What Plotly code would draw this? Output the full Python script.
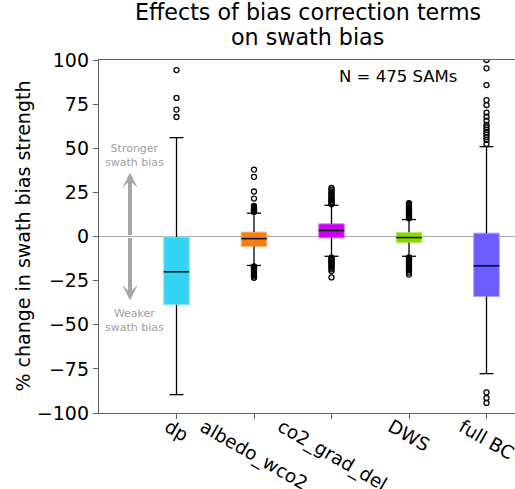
import plotly.graph_objects as go

# -------------------------
# Data
# -------------------------
categories = ["dp", "albedo_wco2", "co2_grad_del", "DWS", "full BC"]
positions = [0, 1, 2, 3, 4]

q1 = [-38.7, -5.7, -0.8, -3.6, -34.0]
median = [-20.0, -1.2, 3.4, -0.6, -16.6]
q3 = [-0.3, 2.5, 7.2, 2.4, 1.9]
whisker_low = [-89.6, -16.4, -11.2, -11.2, -77.7]
whisker_high = [56.0, 13.2, 17.7, 9.6, 50.9]

outliers = {
    "dp": [67.7, 71.9, 78.5, 94.3],
    "albedo_wco2": [
        13.9, 14.4, 14.8, 15.3, 15.8, 16.2, 16.8, 17.4, 21.5, 25.5, 33.8, 37.9,
        -17.0, -17.5, -18.0, -18.4, -18.9, -19.5, -20.0, -20.6, -21.2, -21.9,
        -22.6, -23.4,
    ],
    "co2_grad_del": [
        18.3, 18.9, 19.6, 20.4, 21.1, 21.9, 22.8, 23.7, 24.6, 25.6, 26.6, 27.6,
        -12.0, -12.6, -13.2, -13.9, -14.5, -15.3, -16.0, -16.8, -17.7, -18.6,
        -19.6, -23.2,
    ],
    "DWS": [
        10.3, 10.8, 11.3, 11.8, 12.3, 12.8, 13.4, 14.0, 14.6, 15.2, 15.8, 16.4,
        17.0, 17.7, 18.4, 18.9,
        -11.9, -12.4, -12.9, -13.4, -13.9, -14.5, -15.1, -15.7, -16.3, -17.0,
        -17.7, -18.4, -19.2, -20.4, -21.6,
    ],
    "full BC": [
        52.5, 54.7, 56.3, 57.6, 58.9, 60.4, 61.9, 63.2, 65.7, 67.9, 70.2, 74.5,
        77.3, 85.8, 95.3, 100.0,
        -88.3, -91.5, -94.3,
    ],
}

box_colors = ["#33d4f2", "#f77f0e", "#c800f0", "#88d800", "#6b5cff"]
edge_colors = ["#8ee6f8", "#fbb47a", "#e07cf8", "#bfeb7c", "#a99fff"]

y_ticks = [-100, -75, -50, -25, 0, 25, 50, 75, 100]

title_lines = ["Effects of bias correction terms", "on swath bias"]

FONT = "DejaVu Sans"
BOX_W = 0.33
CAP_W = 0.18

fig = go.Figure()

# Boxes (q1 -> q3)
fig.add_trace(
    go.Bar(
        x=positions,
        y=[hi - lo for lo, hi in zip(q1, q3)],
        base=q1,
        width=BOX_W,
        marker=dict(color=box_colors, line=dict(color=edge_colors, width=1)),
        hoverinfo="skip",
        showlegend=False,
    )
)

# Whiskers, caps and medians as line segments
wx, wy, cx, cy, mx, my = [], [], [], [], [], []
for i, p in enumerate(positions):
    wx += [p, p, None, p, p, None]
    wy += [q3[i], whisker_high[i], None, q1[i], whisker_low[i], None]
    cx += [p - CAP_W / 2, p + CAP_W / 2, None, p - CAP_W / 2, p + CAP_W / 2, None]
    cy += [whisker_high[i], whisker_high[i], None, whisker_low[i], whisker_low[i], None]
    mx += [p - BOX_W / 2, p + BOX_W / 2, None]
    my += [median[i], median[i], None]

fig.add_trace(go.Scatter(x=wx, y=wy, mode="lines", line=dict(color="black", width=1.3),
                         hoverinfo="skip", showlegend=False))
fig.add_trace(go.Scatter(x=cx, y=cy, mode="lines", line=dict(color="black", width=1.3),
                         hoverinfo="skip", showlegend=False))
fig.add_trace(go.Scatter(x=mx, y=my, mode="lines", line=dict(color="black", width=1.5),
                         hoverinfo="skip", showlegend=False))

# Outliers
for p, name in zip(positions, categories):
    vals = outliers[name]
    fig.add_trace(
        go.Scatter(
            x=[p] * len(vals),
            y=vals,
            mode="markers",
            marker=dict(symbol="circle-open", size=5, color="black",
                        line=dict(width=1.3, color="black")),
            showlegend=False,
        )
    )

# Rotated category labels (centred under each tick, like matplotlib)
for p, name in zip(positions, categories):
    fig.add_annotation(
        x=p, y=-0.035, xref="x", yref="paper", yshift=13,
        text=name, textangle=30, showarrow=False,
        xanchor="center", yanchor="top",
        font=dict(family=FONT, size=18.5, color="black"),
    )

# Stronger / weaker arrow
arrow_x = -0.6
for tip in [36.2, -36.2]:
    fig.add_annotation(
        x=arrow_x, y=tip, ax=arrow_x, ay=0, xref="x", yref="y", axref="x", ayref="y",
        text="", showarrow=True, arrowhead=3, arrowsize=0.65, arrowwidth=4,
        arrowcolor="#a6a6a6", standoff=0, startstandoff=0,
    )
fig.add_annotation(x=-0.54, y=46, xref="x", yref="y", text="Stronger<br>swath bias",
                   showarrow=False, font=dict(family=FONT, size=11, color="#a0a0a0"))
fig.add_annotation(x=-0.54, y=-47.4, xref="x", yref="y", text="Weaker<br>swath bias",
                   showarrow=False, font=dict(family=FONT, size=11, color="#a0a0a0"))

fig.add_annotation(x=2.855, y=90.4, xref="x", yref="y", text="N = 475 SAMs",
                   showarrow=False, font=dict(family=FONT, size=16.5, color="black"))

# Title, one annotation per line (matplotlib-like line spacing)
for k, line in enumerate(title_lines):
    fig.add_annotation(x=0.502, y=1, xref="paper", yref="paper",
                       yshift=8 + 25 * (len(title_lines) - 1 - k),
                       text=line, showarrow=False,
                       xanchor="center", yanchor="bottom",
                       font=dict(family=FONT, size=22.2, color="black"))

# Y axis title
fig.add_annotation(x=-0.185, y=0.5, xref="paper", yref="paper",
                   text="% change in swath bias strength", textangle=-90,
                   showarrow=False, xanchor="center", yanchor="middle",
                   font=dict(family=FONT, size=19, color="black"))

fig.update_layout(
    width=515,
    height=489,
    margin=dict(l=99, r=0, t=60, b=76),
    plot_bgcolor="white",
    paper_bgcolor="white",
    font=dict(family=FONT, size=19, color="black"),
    showlegend=False,
)

fig.update_xaxes(
    range=[-1, -1 + 416 / 77.5],
    tickvals=positions,
    ticktext=[""] * len(positions),
    ticks="outside", ticklen=5, tickcolor="#606060",
    showline=True, linecolor="#606060", linewidth=1.3, mirror=True,
    showgrid=False, zeroline=False,
)
fig.update_yaxes(
    range=[-100, 100],
    tickvals=y_ticks,
    ticks="outside", ticklen=5, tickcolor="#606060",
    showline=True, linecolor="#606060", linewidth=1.3,
    showgrid=False,
    zeroline=True, zerolinecolor="#aaaaaa", zerolinewidth=1.3,
    tickfont=dict(family=FONT, size=19, color="black"),
)

# drop the default 8px page margin so the figure sits at the window origin
fig.write_html(
    "out.html",
    config={"displayModeBar": False},
    post_script="document.body.style.margin = '0';",
)
